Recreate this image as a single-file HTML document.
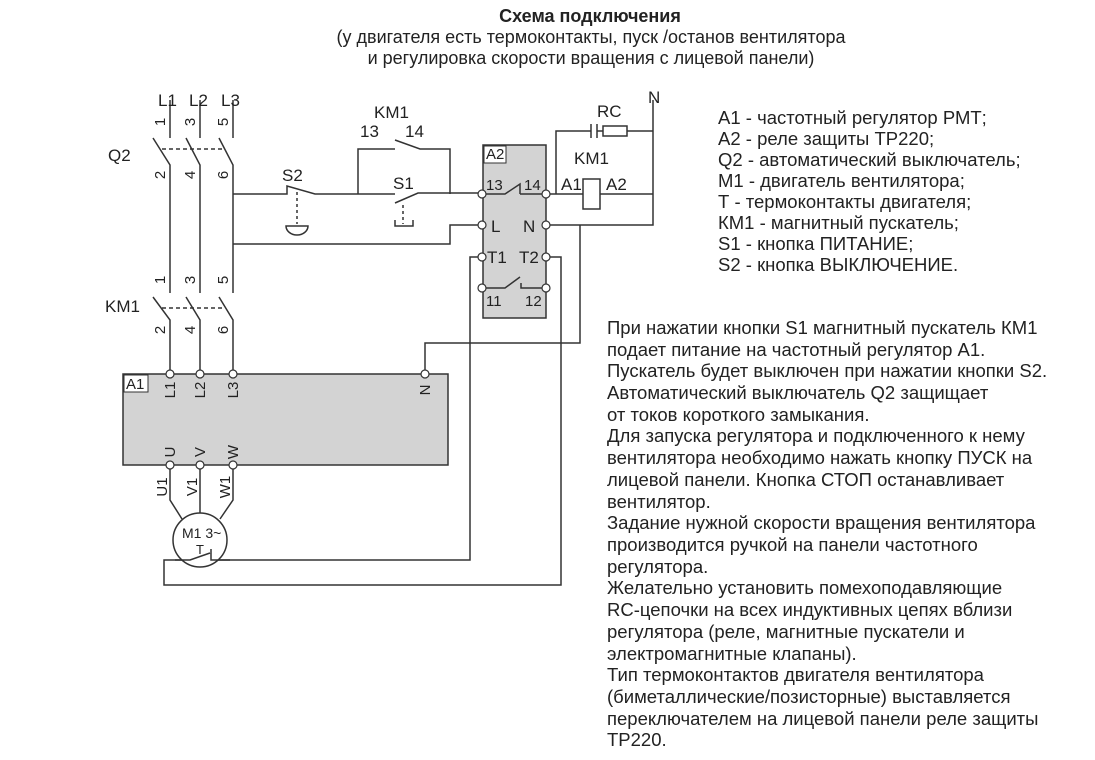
<!DOCTYPE html>
<html><head><meta charset="utf-8"><style>
html,body{margin:0;padding:0;background:#fff}
svg{display:block}
text{font-family:"Liberation Sans",sans-serif;fill:#222}
</style></head><body>
<svg width="1095" height="760" viewBox="0 0 1095 760" xmlns="http://www.w3.org/2000/svg">
<g text-anchor="middle">
<text x="590" y="22" font-size="18" font-weight="bold">Схема подключения</text>
<text x="591" y="43" font-size="18">(у двигателя есть термоконтакты, пуск /останов вентилятора</text>
<text x="591" y="64" font-size="18">и регулировка скорости вращения с лицевой панели)</text>
</g>
<g fill="none" stroke="#333" stroke-width="1.5">
<path d="M170 100V138M200 100V138M233 100V138"/>
<path d="M153 138L170 165V293M186 138L200 165V293M219 138L233 165V293"/>
<path d="M162 149H225" stroke-dasharray="4,3"/>
<path d="M153 297L170 320V374M186 297L200 320V374M219 297L233 320V374"/>
<path d="M162 308H225" stroke-dasharray="4,3"/>
<path d="M233 194H287V186L315 194H358"/>
<path d="M297 192V224" stroke-dasharray="3,3"/>
<path d="M286 226A11 9 0 0 0 308 226Z"/>
<path d="M358 194V149H395M395 140L420 149H450V194"/>
<path d="M358 194H395M395 203L418 193H482"/>
<path d="M403 205V224" stroke-dasharray="3,3"/>
<path d="M395 220V226H413V220"/>
<path d="M233 244H450V225H482"/>
<rect x="483" y="145" width="63" height="173" fill="#d3d3d3"/>
<rect x="484" y="146" width="22" height="17" fill="#fff" stroke-width="1"/>
<path d="M486 194H505L520 184V194M520 194H546" />
<path d="M486 288H505L520 277M521 283V288H546"/>
<path d="M482 257H470V560H347"/>
<path d="M546 257H561V585H164V560H190L212 553M212 549V560H347"/>
<path d="M546 225H653V100"/>
<path d="M580 225V343H425V374"/>
<path d="M546 194H583M600 194H653"/>
<rect x="583" y="179" width="17" height="30" fill="#fff"/>
<path d="M556 194V131H591M597 131H603M627 131H653"/>
<path d="M591 124V138M597 124V138"/>
<rect x="603" y="126" width="24" height="10" fill="#fff"/>
<rect x="123" y="374" width="325" height="91" fill="#d3d3d3"/>
<rect x="124" y="375" width="24" height="17" fill="#fff" stroke-width="1"/>
<path d="M170 465V500L182 519M200 465V515M233 465V500L220 519"/>
<circle cx="200" cy="540" r="27" fill="#fff"/>
<path d="M175 560H190L210 553M211 549V560H230"/>
</g>
<g fill="#fff" stroke="#333" stroke-width="1.2">
<circle cx="482" cy="194" r="4"/><circle cx="546" cy="194" r="4"/>
<circle cx="482" cy="225" r="4"/><circle cx="546" cy="225" r="4"/>
<circle cx="482" cy="257" r="4"/><circle cx="546" cy="257" r="4"/>
<circle cx="482" cy="288" r="4"/><circle cx="546" cy="288" r="4"/>
<circle cx="170" cy="374" r="4"/><circle cx="200" cy="374" r="4"/><circle cx="233" cy="374" r="4"/><circle cx="425" cy="374" r="4"/>
<circle cx="170" cy="465" r="4"/><circle cx="200" cy="465" r="4"/><circle cx="233" cy="465" r="4"/>
</g>
<g font-size="17">
<text x="158" y="106">L1</text><text x="189" y="106">L2</text><text x="221" y="106">L3</text>
<text x="108" y="161">Q2</text><text x="105" y="312">KM1</text>
<text x="374" y="118">KM1</text><text x="360" y="137">13</text><text x="405" y="137">14</text>
<text x="282" y="181">S2</text><text x="393" y="189">S1</text>
<text x="486" y="159" font-size="15">A2</text>
<text x="486" y="190" font-size="15">13</text><text x="524" y="190" font-size="15">14</text>
<text x="491" y="232">L</text><text x="523" y="232">N</text>
<text x="487" y="263">T1</text><text x="519" y="263">T2</text>
<text x="486" y="306" font-size="15">11</text><text x="525" y="306" font-size="15">12</text>
<text x="597" y="117">RC</text><text x="648" y="103">N</text>
<text x="574" y="164">KM1</text><text x="561" y="190">A1</text><text x="606" y="190">A2</text>
<text x="126" y="389" font-size="15">A1</text>
</g>
<text x="182" y="538" font-size="14">M1 3~</text>
<text x="196" y="554" font-size="13">T</text>
<g font-size="15" text-anchor="middle">
<text transform="translate(165,122) rotate(-90)">1</text><text transform="translate(195,122) rotate(-90)">3</text><text transform="translate(228,122) rotate(-90)">5</text>
<text transform="translate(165,175) rotate(-90)">2</text><text transform="translate(195,175) rotate(-90)">4</text><text transform="translate(228,175) rotate(-90)">6</text>
<text transform="translate(165,280) rotate(-90)">1</text><text transform="translate(195,280) rotate(-90)">3</text><text transform="translate(228,280) rotate(-90)">5</text>
<text transform="translate(165,330) rotate(-90)">2</text><text transform="translate(195,330) rotate(-90)">4</text><text transform="translate(228,330) rotate(-90)">6</text>
<text transform="translate(175,390) rotate(-90)">L1</text><text transform="translate(205,390) rotate(-90)">L2</text><text transform="translate(238,390) rotate(-90)">L3</text><text transform="translate(430,390) rotate(-90)">N</text>
<text transform="translate(175,452) rotate(-90)">U</text><text transform="translate(205,452) rotate(-90)">V</text><text transform="translate(238,452) rotate(-90)">W</text>
<text transform="translate(167,487) rotate(-90)">U1</text><text transform="translate(197,487) rotate(-90)">V1</text><text transform="translate(230,487) rotate(-90)">W1</text>
</g>
<g font-size="18.5">
<text x="718" y="124">A1 - частотный регулятор РМТ;</text>
<text x="718" y="145">А2 - реле защиты ТР220;</text>
<text x="718" y="166">Q2 - автоматический выключатель;</text>
<text x="718" y="187">М1 - двигатель вентилятора;</text>
<text x="718" y="208">Т - термоконтакты двигателя;</text>
<text x="718" y="229">КМ1 - магнитный пускатель;</text>
<text x="718" y="250">S1 -  кнопка ПИТАНИЕ;</text>
<text x="718" y="271">S2 - кнопка ВЫКЛЮЧЕНИЕ.</text>
</g>
<g font-size="18.5">
<text x="607" y="334">При нажатии кнопки S1 магнитный пускатель КМ1</text>
<text x="607" y="356">подает питание на частотный регулятор А1.</text>
<text x="607" y="377">Пускатель будет выключен при нажатии кнопки S2.</text>
<text x="607" y="399">Автоматический выключатель Q2 защищает</text>
<text x="607" y="421">от токов короткого замыкания.</text>
<text x="607" y="442">Для запуска регулятора и подключенного к нему</text>
<text x="607" y="464">вентилятора необходимо нажать кнопку ПУСК на</text>
<text x="607" y="486">лицевой панели. Кнопка СТОП останавливает</text>
<text x="607" y="508">вентилятор.</text>
<text x="607" y="529">Задание нужной скорости вращения вентилятора</text>
<text x="607" y="551">производится ручкой на панели частотного</text>
<text x="607" y="573">регулятора.</text>
<text x="607" y="594">Желательно установить помехоподавляющие</text>
<text x="607" y="616">RC-цепочки на всех индуктивных цепях вблизи</text>
<text x="607" y="638">регулятора (реле, магнитные пускатели и</text>
<text x="607" y="660">электромагнитные клапаны).</text>
<text x="607" y="681">Тип термоконтактов двигателя вентилятора</text>
<text x="607" y="703">(биметаллические/позисторные) выставляется</text>
<text x="607" y="725">переключателем на лицевой панели реле защиты</text>
<text x="607" y="746">ТР220.</text>
</g>
</svg>
</body></html>
